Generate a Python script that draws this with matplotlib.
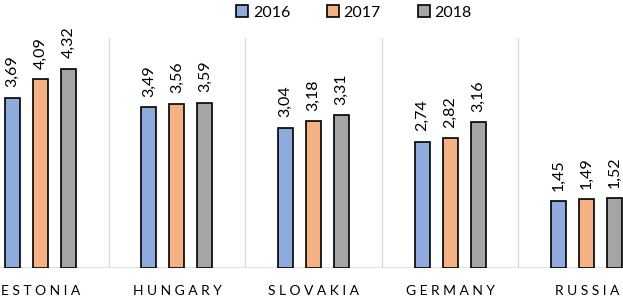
import matplotlib.pyplot as plt
import numpy as np

countries = ['ESTONIA', 'HUNGARY', 'SLOVAKIA', 'GERMANY', 'RUSSIA']
years = ['2016', '2017', '2018']
v2016 = [3.69, 3.49, 3.04, 2.74, 1.45]
v2017 = [4.09, 3.56, 3.18, 2.82, 1.49]
v2018 = [4.32, 3.59, 3.31, 3.16, 1.52]

colors = ['#8faadc', '#f4b183', '#a5a5a5']

plt.rcParams['font.family'] = ['Lato', 'DejaVu Sans']

fig = plt.figure(figsize=(6.23, 2.99), dpi=100)
# plot area is wider than the picture (cut at both sides)
ax = fig.add_axes([-28 / 623, 31 / 299, 683 / 623, 230.5 / 299])

x = np.arange(len(countries))
width = 0.11
step = 0.205
for i, (vals, year) in enumerate(zip([v2016, v2017, v2018], years)):
    bars = ax.bar(x + (i - 1) * step, vals, width, color=colors[i],
                  edgecolor='black', linewidth=1.2, label=year, zorder=3)
    for b, v in zip(bars, vals):
        ax.annotate(f'{v:.2f}'.replace('.', ','),
                    (b.get_x() + b.get_width() / 2, b.get_height()),
                    xytext=(0, 7.5), textcoords='offset points',
                    rotation=90, ha='center', va='bottom', fontsize=11.5)

ax.set_xlim(-0.5, 4.5)
ax.set_ylim(0, 5)
for sep in np.arange(0.5, 4.5, 1):
    ax.axvline(sep, color='#d9d9d9', linewidth=1, zorder=1)
ax.axhline(0, color='#d9d9d9', linewidth=1.2, zorder=2)

ax.set_yticks([])
ax.set_xticks(x)
# letter-spaced category names
ax.set_xticklabels([' '.join(c) for c in countries], fontsize=10)
ax.tick_params(axis='x', length=0, pad=12)
for s in ax.spines.values():
    s.set_visible(False)

fig.legend(loc='upper center', bbox_to_anchor=(0.568, 1.03), ncol=3,
           frameon=False, fontsize=11.5, handlelength=0.75, handleheight=0.75,
           handletextpad=0.3, columnspacing=2.3)

fig.savefig('out.png', dpi=100)
